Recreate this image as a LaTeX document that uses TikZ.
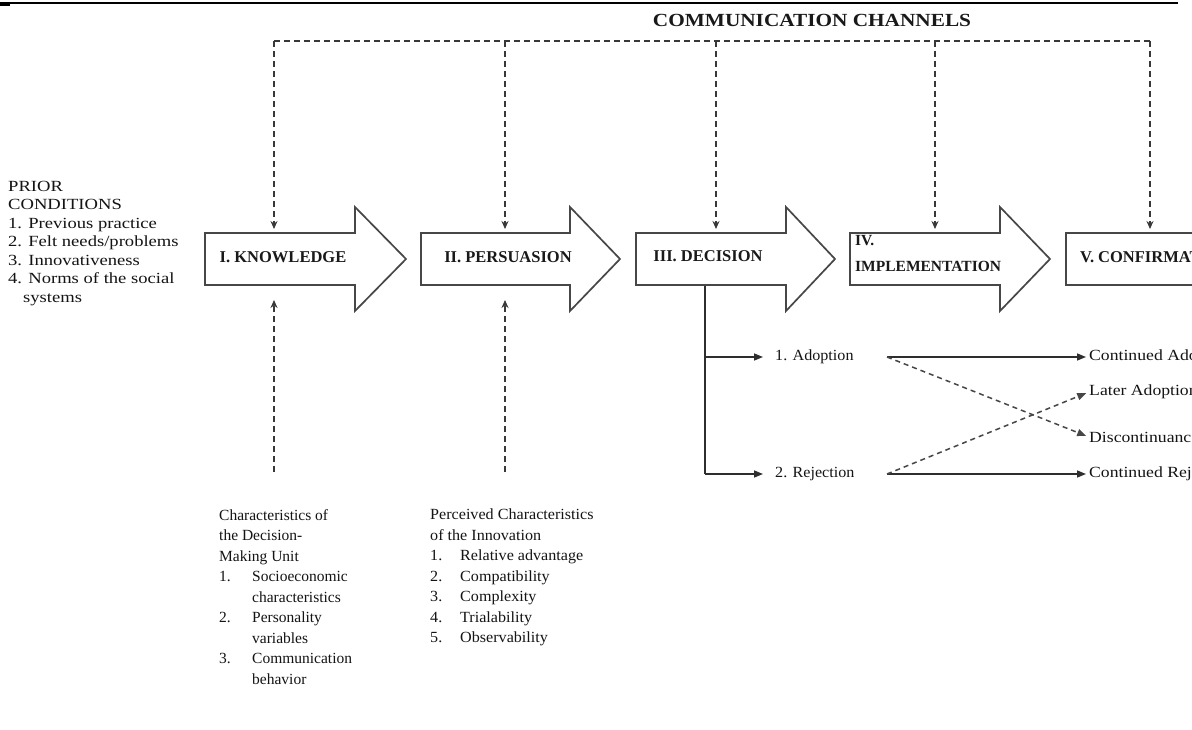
\documentclass[tikz,border=0pt]{standalone}
\usepackage{fontspec}
\setmainfont{Liberation Serif}
\newfontfamily\priorfont[FakeStretch=1.2]{Liberation Serif}
\newfontfamily\outfont[FakeStretch=1.14]{Liberation Serif}
\newfontfamily\blockfont[FakeStretch=1.04]{Liberation Serif}
\newfontfamily\ccfont[FakeStretch=1.15]{Liberation Serif}
\usetikzlibrary{arrows.meta}
\tikzset{
  stageshape/.style={draw=black!72, line width=1.7pt, fill=white, line join=miter},
  chan/.style={draw=black!78, line width=1.5pt, dash pattern=on 6pt off 4pt},
  dtip/.style={-{Stealth[length=8pt,width=7pt]}},
  solidarr/.style={draw=black!82, line width=1.5pt, -{Triangle[length=9pt,width=7pt]}},
  dasharr/.style={draw=black!72, line width=1.5pt, dash pattern=on 5pt off 4pt, -{Triangle[length=9pt,width=7pt]}},
  txt/.style={inner sep=0pt, align=left, text=black!92},
  stagelbl/.style={font=\fontsize{16.5}{19}\selectfont\bfseries, inner sep=0pt, text=black!90, align=left},
}
\newcommand\stagepoly[3]{%
  \draw[stageshape] (#1,233) -- (#2,233) -- (#2,207) -- (#3,259) -- (#2,311) -- (#2,285) -- (#1,285) -- cycle;}
\begin{document}
\begin{tikzpicture}[x=1pt,y=-1pt]
\useasboundingbox (0,0) rectangle (1192,730);
\clip (0,0) rectangle (1192,730);
\fill[white] (0,0) rectangle (1192,730);
% header rule
\coordinate (ruleL) at (0,3);
\coordinate (ruleR) at (1178,3);
\draw[line width=1.1pt] (ruleL) -- (ruleR);
\fill[black] (0,3) rectangle (10,6);

% stage arrows
\stagepoly{205}{355}{406}
\stagepoly{421}{570}{620}
\stagepoly{636}{786}{835}
\stagepoly{850}{1000}{1050}
\stagepoly{1066}{1216}{1266}
\node[stagelbl] (know) at (283,257) {I. KNOWLEDGE};
\node[stagelbl] (pers) at (508,257) {II. PERSUASION};
\node[stagelbl] (deci) at (708,256) {III. DECISION};
\node[stagelbl, anchor=west, font=\fontsize{15.5}{26}\selectfont\bfseries] (impl) at (855,254) {IV.\\IMPLEMENTATION};
\node[stagelbl, anchor=west] (conf) at (1080,257) {V. CONFIRMATION};

% communication channels
\node[font=\fontsize{18.5}{20}\ccfont\bfseries, inner sep=0pt, text=black!90] (cc) at (812,20) {COMMUNICATION CHANNELS};
\coordinate (kin) at (274,229);
\coordinate (pin) at (505,229);
\coordinate (din) at (716,229);
\coordinate (iin) at (935,229);
\coordinate (cin) at (1150,229);
\coordinate (tl) at (274,41);
\coordinate (tp) at (505,41);
\coordinate (td) at (716,41);
\coordinate (ti) at (935,41);
\coordinate (tr) at (1150,41);
\draw[chan] (tl) -- (tr);
\draw[chan, dtip] (tl) -- (kin);
\draw[chan, dtip] (tp) -- (pin);
\draw[chan, dtip] (td) -- (din);
\draw[chan, dtip] (ti) -- (iin);
\draw[chan, dtip] (tr) -- (cin);

% prior conditions
\node[txt, anchor=north west, font=\fontsize{15.5}{18.5}\priorfont] (prior) at (8,181) {PRIOR\\CONDITIONS\\1. Previous practice\\2. Felt needs/problems\\3. Innovativeness\\4. Norms of the social\\\hspace*{15pt}systems};

% bottom influences
\coordinate (kbot) at (274,472);
\coordinate (kup) at (274,300);
\coordinate (pbot) at (505,472);
\coordinate (pup) at (505,300);
\draw[chan, dtip] (kbot) -- (kup);
\draw[chan, dtip] (pbot) -- (pup);

\node[txt, anchor=north west, font=\fontsize{15.5}{20.5}\selectfont] (unit) at (219,509) {Characteristics of\\the Decision-\\Making Unit\\\makebox[33pt][l]{1.}Socioeconomic\\\hspace*{33pt}characteristics\\\makebox[33pt][l]{2.}Personality\\\hspace*{33pt}variables\\\makebox[33pt][l]{3.}Communication\\\hspace*{33pt}behavior};
\node[txt, anchor=north west, font=\fontsize{15.5}{20.5}\blockfont] (innov) at (430,509) {Perceived Characteristics\\of the Innovation\\\makebox[30pt][l]{1.}Relative advantage\\\makebox[30pt][l]{2.}Compatibility\\\makebox[30pt][l]{3.}Complexity\\\makebox[30pt][l]{4.}Trialability\\\makebox[30pt][l]{5.}Observability};

% decision outcomes
\coordinate (dtop) at (705,286);
\coordinate (dmid) at (705,357);
\coordinate (dbot) at (705,474);
\node[txt, anchor=west, font=\fontsize{15.5}{19}\blockfont] (adopt) at (775,357) {1. Adoption};
\node[txt, anchor=west, font=\fontsize{15.5}{19}\blockfont] (rej) at (775,474) {2. Rejection};
\draw[draw=black!82, line width=1.5pt] (dtop) -- (dbot);
\draw[solidarr, shorten >=12pt] (dmid) -- (adopt.west);
\draw[solidarr, shorten >=12pt] (dbot) -- (rej.west);

\node[txt, anchor=west, font=\fontsize{15.5}{19}\outfont] (cadopt) at (1089,357) {Continued Adoption};
\node[txt, anchor=west, font=\fontsize{15.5}{19}\outfont] (later) at (1089,392) {Later Adoption};
\node[txt, anchor=west, font=\fontsize{15.5}{19}\outfont] (disc) at (1089,437) {Discontinuance};
\node[txt, anchor=west, font=\fontsize{15.5}{19}\outfont] (crej) at (1089,474) {Continued Rejection};
\coordinate (aout) at (887,357);
\coordinate (rout) at (887,474);
\draw[solidarr, shorten >=3pt] (aout) -- (cadopt.west);
\draw[solidarr, shorten >=3pt] (rout) -- (crej.west);
\draw[dasharr, shorten >=3pt] (aout) -- (disc.west);
\draw[dasharr, shorten >=3pt] (rout) -- (later.west);
\end{tikzpicture}
\end{document}
